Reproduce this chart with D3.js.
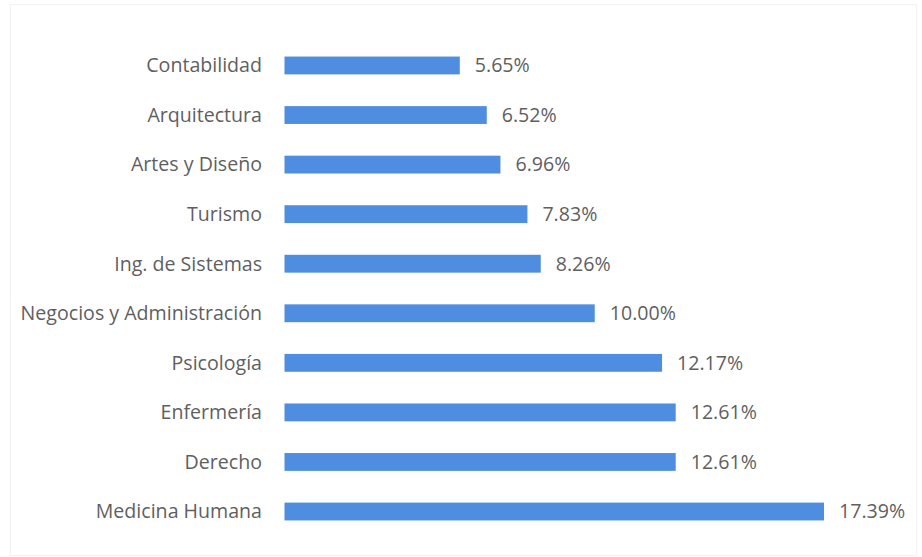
<!DOCTYPE html>
<html><head><meta charset="utf-8">
<script src="https://cdn.jsdelivr.net/npm/d3@7"></script>
<style>body{margin:0;background:#fff}</style>
</head><body><div id="chart"></div>
<script>
const categories = ["Contabilidad","Arquitectura","Artes y Diseño","Turismo","Ing. de Sistemas","Negocios y Administración","Psicología","Enfermería","Derecho","Medicina Humana"];
const values = [5.65,6.52,6.96,7.83,8.26,10.00,12.17,12.61,12.61,17.39];
const valueLabels = ["5.65%","6.52%","6.96%","7.83%","8.26%","10.00%","12.17%","12.61%","12.61%","17.39%"];

const W=922,H=557;
const svg=d3.select("#chart").append("svg").attr("width",W).attr("height",H);
svg.append("rect").attr("x",10.5).attr("y",4.5).attr("width",W-16).attr("height",H-6)
  .attr("fill","none").attr("stroke","#f2f2f2");
const x=d3.scaleLinear().domain([0,17.39]).range([284.5,824]);
const y=d3.scaleBand().domain(categories).range([40.7,536.3]).paddingInner(0.64).paddingOuter(0.32);
const font="'Open Sans', 'Noto Sans', sans-serif";
svg.selectAll("rect.bar").data(categories).join("rect").attr("class","bar")
  .attr("x",x(0)).attr("y",d=>y(d)).attr("height",y.bandwidth())
  .attr("width",(d,i)=>x(values[i])-x(0)).attr("fill","#4e8de0");
svg.selectAll("text.cat").data(categories).join("text").attr("class","cat")
  .attr("x",262).attr("y",d=>y(d)+y.bandwidth()/2).attr("dy","0.35em")
  .attr("text-anchor","end").attr("font-family",font).attr("font-size",19.6)
  .attr("fill","#5f5f5f").text(d=>d);
svg.selectAll("text.val").data(categories).join("text").attr("class","val")
  .attr("x",(d,i)=>x(values[i])+15).attr("y",d=>y(d)+y.bandwidth()/2).attr("dy","0.35em")
  .attr("font-family",font).attr("font-size",19.6)
  .attr("fill","#5f5f5f").text((d,i)=>valueLabels[i]);
</script></body></html>
